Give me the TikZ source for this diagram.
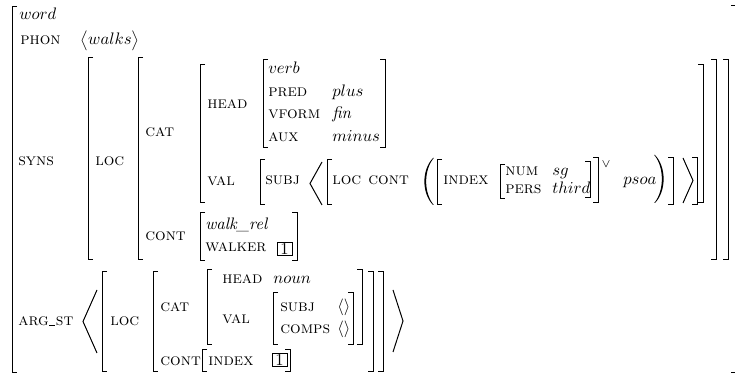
\documentclass[tikz,border=0pt]{standalone}
\usepackage{amsmath}
% square brackets: x, top, bottom
\newcommand\avmLB[3]{\draw[brk] ({#1+5},#2) -- (#1,#2) -- (#1,#3) -- ({#1+5},#3);}
\newcommand\avmRB[3]{\draw[brk] ({#1-5},#2) -- (#1,#2) -- (#1,#3) -- ({#1-5},#3);}
% angle brackets: tip x, open x, top, bottom
\newcommand\avmAng[4]{\draw[brk] (#2,#3) -- (#1,{(#3+#4)/2}) -- (#2,#4);}
% short underscore used inside feature names
\newcommand\avmUs{\kern0.3pt\rule{3.6pt}{0.4pt}\kern0.3pt}
\begin{document}
\begin{tikzpicture}[x=0.6pt,y=-0.6pt,
  brk/.style={line width=0.6pt},
  feat/.style={anchor=base west,inner sep=0pt,font=\scshape},
  val/.style={anchor=base west,inner sep=0pt},
  tagbox/.style={draw,line width=0.45pt,inner sep=0pt,minimum width=9pt,minimum height=7.8pt}]
\useasboundingbox (0,0) rectangle (735,375);

% outermost matrix (its right side lies past the edge: only the tick ends show)
\avmLB{12}{7}{373}
\draw[brk] (731,6) -- (735,6);
\draw[brk] (731,373) -- (735,373);
\node[val] (word) at (19,20) {$word$};
\node[feat] (phon) at (20,45) {phon};
\node[val] (walks) at (80,45) {$\bigl\langle walks\bigr\rangle$};

% SYNS
\node[feat] (syns) at (18,166) {syns};
\avmLB{88}{58}{260}  \avmRB{728}{60}{260}
\node[feat] (loc1) at (95,166) {loc};
\avmLB{138}{58}{260} \avmRB{716}{60}{260}
\node[feat] (cat1) at (145,137) {cat};
\avmLB{200}{65}{203} \avmRB{703}{65}{203}
\node[feat] (head1) at (207,109) {head};
\avmLB{263}{60}{148} \avmRB{385}{60}{148}
\node[val]  (verb)  at (268,74) {$verb$};
\node[feat] (pred)  at (268,97) {pred};
\node[val]  (plus)  at (332,97) {$plus$};
\node[feat] (vform) at (268,119) {vform};
\node[val]  (fin)   at (332,119) {\textit{fin}};
\node[feat] (aux)   at (268,142) {aux};
\node[val]  (minus) at (332,142) {$minus$};

\node[feat] (val1) at (207,186) {val};
\avmLB{260}{160}{205} \avmRB{697}{158}{205}
\node[feat] (subj1) at (265,185) {subj};
\avmAng{310}{322}{162}{205}
\avmLB{327}{160}{205} \avmRB{673}{158}{205}
\node[feat] (loc2)  at (332,185) {loc};
\node[feat] (cont2) at (368,185) {cont};
% parentheses round the disjunction
\fill (433,158) .. controls (421.5,170) and (421.5,193) .. (433,205)
  -- (433.8,205) .. controls (423.6,193) and (423.6,170) .. (433.8,158) -- cycle;
\fill (655,155) .. controls (666.5,167) and (666.5,191) .. (655,203)
  -- (654.2,203) .. controls (664.4,191) and (664.4,167) .. (654.2,155) -- cycle;
\avmLB{437}{160}{205} \avmRB{598}{158}{203}
\node[feat] (index1) at (443,185) {index};
\avmLB{500}{165}{199} \avmRB{590}{162}{198}
\node[feat] (num)   at (505,176) {num};
\node[val]  (sg)    at (552,176) {$sg$};
\node[feat] (pers)  at (505,194) {pers};
\node[val]  (third) at (552,194) {$third$};
\node[inner sep=0pt] (vee) at (606,164) {$\scriptstyle\vee$};
\node[val]  (psoa)  at (623,185) {$psoa$};
\avmAng{693}{683}{158}{203}

\node[feat] (cont1) at (145,241) {cont};
\avmLB{200}{213}{261} \avmRB{297}{213}{261}
\node[val]  (walkrel) at (205,230) {\textit{walk\_rel}};
\node[feat] (walker)  at (205,252) {walker};
\node[tagbox] (tag1) at (284.5,248.5) {1};

% ARG_ST
\node[feat] (argst) at (18,326) {arg\avmUs st};
\avmAng{83}{97}{290}{353}
\avmLB{102}{272}{372} \avmRB{383}{272}{372}
\node[feat] (loc3) at (110,326) {loc};
\avmLB{153}{272}{372} \avmRB{373}{272}{372}
\node[feat] (cat3) at (160,312) {cat};
\avmLB{207}{270}{345} \avmRB{362}{270}{345}
\node[feat] (head3) at (222,284) {head};
\node[val]  (noun)  at (273,284) {$noun$};
\node[feat] (val3)  at (222,324) {val};
\avmLB{273}{293}{345} \avmRB{353}{293}{345}
\node[feat] (subj3) at (280,312) {subj};
\node[val]  (empty1) at (337,312) {$\langle\rangle$};
\node[feat] (comps) at (280,334) {comps};
\node[val]  (empty2) at (337,334) {$\langle\rangle$};
\node[feat] (cont3) at (160,366) {cont};
\avmLB{202}{350}{372} \avmRB{290}{350}{372}
\node[feat] (index3) at (208,366) {index};
\node[tagbox] (tag2) at (279.5,359.5) {1};
\avmAng{403}{393}{290}{352}
\end{tikzpicture}
\end{document}
